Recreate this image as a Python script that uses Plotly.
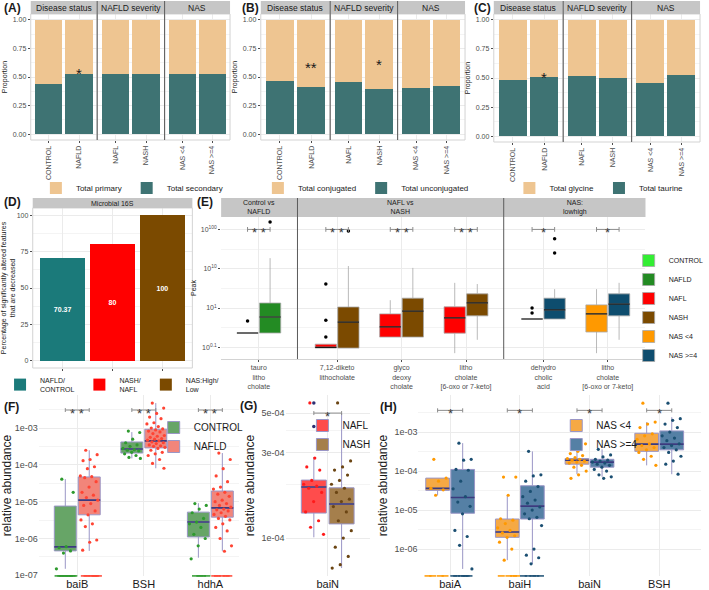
import math
import plotly.graph_objects as go

# ======================= DATA =======================
# Panels A-C (proportion of the dark/lower fraction per group)
abc_facets = ["Disease status", "NAFLD severity", "NAS"]
abc_categories = [["CONTROL", "NAFLD"], ["NAFL", "NASH"], ["NAS <4", "NAS >=4"]]
a_secondary = [0.435, 0.525, 0.53, 0.525, 0.525, 0.525]
b_unconjugated = [0.465, 0.415, 0.46, 0.395, 0.405, 0.42]
c_taurine = [0.48, 0.505, 0.515, 0.50, 0.46, 0.53]
a_sig = ["", "*", "", "", "", ""]
b_sig = ["", "**", "", "*", "", ""]
c_sig = ["", "*", "", "", "", ""]
a_sig_y = [0, 0.55, 0, 0, 0, 0]
b_sig_y = [0, 0.60, 0, 0.63, 0, 0]
c_sig_y = [0, 0.52, 0, 0, 0, 0]

# Panel D
d_comparisons = ["NAFLD/<br>CONTROL", "NASH/<br>NAFL", "NAS:High/<br>Low"]
d_percent = [70.37, 80, 100]

# Panel E (values are log10(Peak); axis shows them on a log scale)
e_facets = ["Control vs<br>NAFLD", "NAFL vs<br>NASH", "NAS:<br>lowhigh"]
e_features = [["tauro<br>litho<br>cholate"],
              ["7,12-diketo<br>lithocholate", "glyco<br>deoxy<br>cholate", "litho<br>cholate<br>[6-oxo or 7-keto]"],
              ["dehydro<br>cholic<br>acid", "litho<br>cholate<br>[6-oxo or 7-keto]"]]
e_groups = [["CONTROL", "NAFLD"], ["NAFL", "NASH"], ["NAS <4", "NAS >=4"]]
e_lo = [[[0.231, 0.231]], [[0.0955, 0.0955], [0.182, 0.182], [0.0708, 0.155]], [[0.525, 0.525], [0.0708, 0.155]]]
e_q1 = [[[0.231, 0.231]], [[0.0955, 0.0955], [0.182, 0.182], [0.229, 0.631]], [[0.525, 0.525], [0.245, 0.631]]]
e_med = [[[0.231, 0.590]], [[0.100, 0.436], [0.331, 0.832], [0.562, 1.35]], [[0.525, 0.891], [0.708, 1.26]]]
e_q3 = [[[0.231, 1.34]], [[0.120, 1.06], [0.708, 1.78], [1.07, 2.29]], [[0.525, 1.78], [1.20, 2.29]]]
e_hi = [[[0.231, 18.6]], [[0.120, 11.7], [1.58, 10.5], [4.37, 4.07]], [[0.525, 3.02], [3.02, 4.37]]]
e_outliers = [[[[0.468], [155]]],
              [[[4.07, 0.49, 0.182], [91]], [[], []], [[], []]],
              [[[1.0, 0.741], [25.1, 57.5]], [[], []]]]
e_sig = [["**"], ["**", "**", "**"], ["*", "*"]]
e_sig_level = 100

# Panel F (relative abundance; 0 = not detected)
f_genes = ["baiB", "BSH", "hdhA"]
f_groups = ["CONTROL", "NAFLD"]
f_lo = [[1.5e-7, 4.6e-7], [1.5e-4, 8.1e-5], [3.0e-7, 4.6e-7]]
f_q1 = [[4.6e-7, 4.4e-6], [2.1e-4, 2.9e-4], [1.1e-6, 3.8e-6]]
f_med = [[5.9e-7, 1.1e-5], [2.7e-4, 4.5e-4], [2.8e-6, 6.8e-6]]
f_q3 = [[7.6e-6, 4.7e-5], [4.2e-4, 9.3e-4], [5.2e-6, 1.95e-5]]
f_hi = [[4.1e-5, 2.5e-4], [7.8e-4, 4.8e-3], [9.1e-6, 2.1e-4]]
f_points = [
    [[4.1e-5, 1.8e-5, 6.0e-7, 5.6e-7, 4.6e-7, 4.0e-7, 1.5e-7, 0, 0, 0, 0, 0, 0, 0, 0],
     [2.5e-4, 1.9e-4, 1.4e-4, 1.3e-4, 8.9e-5, 7.9e-5, 5.0e-5, 4.8e-5, 4.5e-5, 3.5e-5, 2.5e-5, 1.8e-5,
      1.5e-5, 1.3e-5, 1.1e-5, 8.9e-6, 7.9e-6, 5.6e-6, 4.4e-6, 3.2e-6, 2.5e-6, 2.1e-6, 9.1e-7, 7.9e-7,
      4.8e-7, 0, 0, 0, 0, 0, 0]],
    [[8.3e-4, 7.6e-4, 5.0e-4, 4.0e-4, 3.5e-4, 3.2e-4, 2.8e-4, 2.6e-4, 2.5e-4, 2.4e-4, 2.2e-4, 2.0e-4,
      1.8e-4, 1.6e-4, 1.5e-4],
     [4.8e-3, 3.5e-3, 2.5e-3, 2.0e-3, 1.8e-3, 1.4e-3, 1.3e-3, 1.1e-3, 1.0e-3, 9.5e-4, 8.9e-4, 8.3e-4,
      7.9e-4, 7.1e-4, 6.3e-4, 6.0e-4, 5.6e-4, 5.2e-4, 5.0e-4, 4.7e-4, 4.5e-4, 4.2e-4, 4.0e-4, 3.8e-4,
      3.5e-4, 3.3e-4, 3.2e-4, 3.0e-4, 2.8e-4, 2.5e-4, 2.2e-4, 2.0e-4, 1.8e-4, 1.4e-4, 1.1e-4, 8.1e-5]],
    [[8.9e-6, 7.9e-6, 6.3e-6, 5.0e-6, 3.5e-6, 2.8e-6, 2.5e-6, 2.0e-6, 1.3e-6, 1.0e-6, 6.3e-7, 2.8e-7,
      0, 0, 0, 0],
     [2.1e-4, 1.4e-4, 7.9e-5, 5.0e-5, 3.5e-5, 2.5e-5, 2.2e-5, 1.8e-5, 1.6e-5, 1.4e-5, 1.1e-5, 1.0e-5,
      8.9e-6, 7.9e-6, 7.1e-6, 6.3e-6, 6.0e-6, 5.6e-6, 5.0e-6, 4.5e-6, 4.0e-6, 3.5e-6, 3.2e-6, 2.5e-6,
      2.0e-6, 1.6e-6, 1.0e-6, 6.3e-7, 4.5e-7, 0, 0, 0, 0, 0]]]
f_sig = ["**", "**", "**"]
f_sig_level = 3.1e-3

# Panel G
g_genes = ["baiN"]
g_groups = ["NAFL", "NASH"]
g_lo = [[1.01e-4, 6.8e-5]]
g_q1 = [[1.38e-4, 1.20e-4]]
g_med = [[1.93e-4, 1.55e-4]]
g_q3 = [[2.11e-4, 1.91e-4]]
g_hi = [[2.84e-4, 5.0e-4]]
g_outliers = [[[5.7e-4, 4.2e-4], []]]
g_points = [[[5.7e-4, 4.2e-4, 2.8e-4, 2.5e-4, 2.4e-4, 2.1e-4, 2.0e-4, 1.95e-4, 1.9e-4, 1.8e-4, 1.6e-4,
              1.4e-4, 1.25e-4, 1.15e-4, 1.05e-4],
             [5.7e-4, 2.7e-4, 2.5e-4, 2.4e-4, 2.25e-4, 2.1e-4, 2.0e-4, 1.9e-4, 1.8e-4, 1.65e-4, 1.6e-4,
              1.5e-4, 1.4e-4, 1.25e-4, 1.1e-4, 1.0e-4, 8.9e-5, 7.9e-5, 7.1e-5, 6.8e-5]]]
g_sig = ["*"]
g_sig_level = 5.0e-4

# Panel H
h_genes = ["baiA", "baiH", "baiN", "BSH"]
h_groups = ["NAS <4", "NAS >=4"]
h_lo = [[2.4e-5, 3.1e-7], [5.2e-7, 4.2e-7], [8.3e-5, 7.1e-5], [1.4e-4, 8.3e-5]]
h_q1 = [[3.2e-5, 8.3e-6], [2.0e-6, 5.9e-6], [1.5e-4, 1.26e-4], [3.2e-4, 3.5e-4]]
h_med = [[3.6e-5, 2.1e-5], [2.75e-6, 1.26e-5], [1.9e-4, 1.7e-4], [4.9e-4, 4.9e-4]]
h_q3 = [[6.6e-5, 1.1e-4], [5.9e-6, 4.2e-5], [2.1e-4, 2.0e-4], [9.3e-4, 1.07e-3]]
h_hi = [[6.6e-5, 5.2e-4], [2.4e-5, 3.2e-4], [3.5e-4, 3.6e-4], [1.8e-3, 2.4e-3]]
h_points = [
    [[2.0e-4, 6.6e-5, 5.5e-5, 3.6e-5, 3.3e-5, 2.4e-5, 0, 0, 0, 0],
     [5.2e-4, 2.0e-4, 1.9e-4, 1.1e-4, 1.05e-4, 5.5e-5, 3.5e-5, 2.2e-5, 1.6e-5, 1.25e-5, 8.0e-6, 3.0e-6,
      2.1e-6, 1.25e-6, 3.1e-7, 0, 0, 0, 0, 0, 0]],
    [[7.0e-5, 7.0e-5, 2.4e-5, 6.0e-6, 5.5e-6, 4.5e-6, 3.5e-6, 3.0e-6, 2.6e-6, 2.2e-6, 2.0e-6, 1.5e-6,
      1.0e-6, 5.2e-7, 0, 0, 0, 0],
     [3.2e-4, 8.0e-5, 7.5e-5, 5.5e-5, 4.0e-5, 3.0e-5, 2.2e-5, 1.8e-5, 1.5e-5, 1.2e-5, 1.0e-5, 8.0e-6,
      6.5e-6, 6.0e-6, 4.0e-6, 1.0e-6, 7.0e-7, 6.0e-7, 4.2e-7, 0, 0, 0, 0, 0]],
    [[5.6e-4, 5.0e-4, 3.2e-4, 2.8e-4, 2.5e-4, 2.2e-4, 2.1e-4, 2.0e-4, 1.9e-4, 1.8e-4, 1.7e-4, 1.6e-4,
      1.4e-4, 1.26e-4, 1.0e-4, 8.0e-5, 6.5e-5],
     [3.6e-4, 2.6e-4, 2.3e-4, 2.0e-4, 1.9e-4, 1.8e-4, 1.7e-4, 1.6e-4, 1.5e-4, 1.4e-4, 1.26e-4, 1.1e-4,
      1.0e-4, 8.0e-5, 7.1e-5, 6.5e-5]],
    [[5.5e-3, 1.8e-3, 1.6e-3, 1.3e-3, 9.0e-4, 8.0e-4, 6.5e-4, 5.0e-4, 4.5e-4, 4.0e-4, 3.5e-4, 3.0e-4,
      2.4e-4, 2.0e-4, 1.4e-4],
     [5.5e-3, 2.2e-3, 2.0e-3, 1.6e-3, 1.3e-3, 1.0e-3, 8.0e-4, 7.0e-4, 6.0e-4, 5.0e-4, 4.5e-4, 4.0e-4,
      3.5e-4, 3.0e-4, 2.4e-4, 1.8e-4, 1.5e-4, 8.3e-5]]]
h_sig = ["*", "*", "*", "*"]
h_sig_level = 3.6e-3

log_ticks = [1e-3, 1e-4, 1e-5, 1e-6, 1e-7]
log_ticktext = ["1e-03", "1e-04", "1e-05", "1e-06", "1e-07"]

# ======================= STYLE / HELPERS =======================
W, H = 709, 590
FONT = "Liberation Sans, Arial, Helvetica, sans-serif"
DARK = "#1A1A1A"
TICKC = "#4D4D4D"
GRID = "#EBEBEB"
MINOR = "#F4F4F4"
STRIP = "#C6C6C6"
SEP = "#5A5A5A"
BORDER = "#D3D3D3"
TAN = "#EEC591"
TEAL = "#3E7373"

fig = go.Figure()
layout = {}
shapes, annotations = [], []
cnt = {"x": 0, "y": 0}


def fx(p):
    return p / W


def fy(p):
    return 1 - p / H


def axis(kind, **kw):
    cnt[kind] += 1
    n = cnt[kind]
    ref = kind if n == 1 else f"{kind}{n}"
    layout[kind + "axis" + ("" if n == 1 else str(n))] = kw
    return ref


def akey(ref):
    return ref[0] + "axis" + ref[1:]


def rect(x0, y0, x1, y1, fill=None, line=None, lw=1):
    shapes.append(dict(type="rect", xref="paper", yref="paper", x0=fx(x0), x1=fx(x1), y0=fy(y1), y1=fy(y0),
                       fillcolor=fill or "rgba(0,0,0,0)",
                       line=dict(color=line or "rgba(0,0,0,0)", width=lw if line else 0), layer="above"))


def vline(x, y0, y1, color=SEP, lw=1):
    shapes.append(dict(type="line", xref="paper", yref="paper", x0=fx(x), x1=fx(x), y0=fy(y0), y1=fy(y1),
                       line=dict(color=color, width=lw), layer="above"))


def text(x, y, s, size, color=DARK, bold=False, xanchor="center", yanchor="middle"):
    annotations.append(dict(xref="paper", yref="paper", x=fx(x), y=fy(y), text=f"<b>{s}</b>" if bold else s,
                            showarrow=False, font=dict(size=size, color=color, family=FONT),
                            xanchor=xanchor, yanchor=yanchor))


def legend_cfg(x, y, orient, size, xanchor="center", yanchor="middle"):
    return dict(orientation=orient, x=fx(x), y=fy(y), xanchor=xanchor, yanchor=yanchor,
                font=dict(size=size, color=DARK, family=FONT), bgcolor="rgba(0,0,0,0)",
                itemwidth=30, tracegroupgap=0, traceorder="normal", itemclick=False, itemdoubleclick=False)


def jitter_x(center, n, half):
    return [center + half * (2 * ((k * 0.6180339887 + 0.31) % 1.0) - 1) for k in range(n)]


def add_box(xref, yref, pos, stats, width, fill, line, lw, med_color, med_w, name, legend, showlegend):
    lo, q1, med, q3, hi = stats
    fig.add_trace(go.Box(x=[pos], lowerfence=[lo], q1=[q1], median=[med], q3=[q3], upperfence=[hi],
                         width=width, fillcolor=fill, line=dict(color=line, width=lw), whiskerwidth=0,
                         boxpoints=False, name=name, legendgroup=name, showlegend=showlegend, legend=legend,
                         xaxis=xref, yaxis=yref, hoverinfo="skip"))
    fig.add_trace(go.Scatter(x=[pos - width / 2, pos + width / 2], y=[med, med], mode="lines",
                             line=dict(color=med_color, width=med_w), showlegend=False, hoverinfo="skip",
                             xaxis=xref, yaxis=yref))


def bracket(xref, yref, xa, xb, yv, fac, label, size, dy=0):
    fig.add_trace(go.Scatter(x=[xa, xa, None, xa, xb, None, xb, xb],
                             y=[yv / fac, yv * fac, None, yv, yv, None, yv / fac, yv * fac],
                             mode="lines", line=dict(color="#8C8C8C", width=1), showlegend=False,
                             hoverinfo="skip", xaxis=xref, yaxis=yref, cliponaxis=False))
    annotations.append(dict(xref=xref, yref=yref, x=(xa + xb) / 2, y=math.log10(yv), text=" ".join(label),
                            showarrow=False, font=dict(size=size, color="#3A3A3A", family=FONT),
                            xanchor="center", yanchor="middle", yshift=dy))


# ======================= PANELS A-C =======================
def bar_panel(label, label_x, facets_px, y_top, y_bot, lower, lower_name, upper_name, sig, sig_y, legend_id,
              legend_cx):
    yref = axis("y", domain=[fy(y_bot), fy(y_top)], range=[-0.05, 1.05],
                tickvals=[0, 0.25, 0.5, 0.75, 1], ticktext=["0.00", "0.25", "0.50", "0.75", "1.00"],
                tickfont=dict(size=7, color=TICKC), ticks="outside", ticklen=2, tickcolor=TICKC,
                showgrid=True, gridcolor=GRID, zeroline=False, showline=False,
                minor=dict(showgrid=True, gridcolor=MINOR, tickvals=[0.125, 0.375, 0.625, 0.875]),
                title=dict(text="Proportion", font=dict(size=7, color=DARK), standoff=4))
    xrefs = []
    for fi, (l, r) in enumerate(facets_px):
        cats = abc_categories[fi]
        xref = axis("x", domain=[fx(l), fx(r)], type="category", categoryorder="array", categoryarray=cats,
                    range=[-0.6, 1.6], tickangle=-90, tickfont=dict(size=7, color=TICKC), ticks="outside",
                    ticklen=2, tickcolor=TICKC, showgrid=True, gridcolor=GRID, zeroline=False, anchor=yref)
        xrefs.append(xref)
        lo = lower[2 * fi:2 * fi + 2]
        fig.add_trace(go.Bar(x=cats, y=lo, marker=dict(color=TEAL, line=dict(width=0)), name=lower_name,
                             legend=legend_id, legendrank=2, showlegend=(fi == 0), xaxis=xref, yaxis=yref,
                             hoverinfo="skip"))
        fig.add_trace(go.Bar(x=cats, y=[1 - v for v in lo], marker=dict(color=TAN, line=dict(width=0)),
                             name=upper_name, legend=legend_id, legendrank=1, showlegend=(fi == 0),
                             xaxis=xref, yaxis=yref, hoverinfo="skip"))
        for k in range(2):
            s = sig[2 * fi + k]
            if s:
                annotations.append(dict(xref=xref, yref=yref, x=cats[k], y=sig_y[2 * fi + k], text=s,
                                        showarrow=False, font=dict(size=15, color=DARK, family=FONT),
                                        xanchor="center", yanchor="middle", yshift=-2))
        rect(l, y_top, r, y_bot, line=BORDER, lw=1)
        rect(l, 1, r, y_top, fill=STRIP)
        text((l + r) / 2, (1 + y_top) / 2 + 0.5, abc_facets[fi], 8.5)
        if fi > 0:
            vline(l, 1, y_bot)
    layout[akey(yref)]["anchor"] = xrefs[0]
    text(label_x, 8, label, 12, bold=True, xanchor="left")
    layout[legend_id] = legend_cfg(legend_cx, 188, "h", 8)


bar_panel("(A)", 1, [(30, 97), (97, 165), (165, 231)], 14, 140, a_secondary, "Total secondary", "Total primary",
          a_sig, a_sig_y, "legend", 132)
bar_panel("(B)", 241, [(262, 332), (332, 400), (400, 468)], 14, 140, b_unconjugated, "Total unconjugated",
          "Total conjugated", b_sig, b_sig_y, "legend2", 368)
bar_panel("(C)", 475, [(497, 567), (567, 636), (636, 705)], 14, 142, c_taurine, "Total taurine",
          "Total glycine", c_sig, c_sig_y, "legend3", 603)

# ======================= PANEL D =======================
d_colors = ["#1B7A7A", "#FF0000", "#7B4A00"]
d_y = axis("y", domain=[fy(368), fy(208)], range=[-5, 105], tickvals=[0, 25, 50, 75, 100],
           tickfont=dict(size=7, color=TICKC), ticks="outside", ticklen=2, tickcolor=TICKC,
           showgrid=True, gridcolor=GRID, zeroline=False,
           minor=dict(showgrid=True, gridcolor=MINOR, tickvals=[12.5, 37.5, 62.5, 87.5]),
           title=dict(text="Percentage of significantly altered features<br>that are decreased",
                      font=dict(size=7, color=DARK), standoff=4))
d_x = axis("x", domain=[fx(32), fx(193)], type="category", categoryorder="array", categoryarray=d_comparisons,
           range=[-0.6, 2.6], showticklabels=False, ticks="outside", ticklen=2, tickcolor=TICKC,
           showgrid=True, gridcolor=GRID, zeroline=False, anchor=d_y)
layout[akey(d_y)]["anchor"] = d_x
for i, comp in enumerate(d_comparisons):
    fig.add_trace(go.Bar(x=[comp], y=[d_percent[i]], marker=dict(color=d_colors[i], line=dict(width=0)),
                         name=comp, legend="legend4", text=[f"<b>{d_percent[i]:g}</b>"], textposition="inside",
                         insidetextanchor="middle", textfont=dict(size=7, color="white", family=FONT),
                         xaxis=d_x, yaxis=d_y, hoverinfo="skip"))
rect(32, 208, 193, 368, line=BORDER)
rect(32, 198, 193, 208, fill=STRIP)
text(112.5, 203.5, "Microbial 16S", 7)
text(1, 202, "(D)", 12, bold=True, xanchor="left")
layout["legend4"] = legend_cfg(112, 385, "h", 7)

# ======================= PANEL E =======================
E_CLR = {"CONTROL": "#33EE33", "NAFLD": "#238B23", "NAFL": "#FF0000", "NASH": "#7B4A00",
         "NAS <4": "#FF9900", "NAS >=4": "#0E4D6E"}
e_px = [(222, 299), (299, 507), (507, 650)]
e_rng = [[-0.585, 0.6], [-0.615, 2.585], [-0.615, 1.585]]
E_OFF, E_W = 0.175, 0.33
e_y = axis("y", domain=[fy(359), fy(217)], type="log", range=[-1.298, 2.316], tickvals=[0.1, 1, 10, 100],
           ticktext=["10<sup>0.1</sup>", "10<sup>1</sup>", "10<sup>10</sup>", "10<sup>100</sup>"],
           tickfont=dict(size=7, color=TICKC), ticks="outside", ticklen=2, tickcolor=TICKC,
           showgrid=True, gridcolor=GRID, zeroline=False,
           minor=dict(showgrid=True, gridcolor=MINOR, tickvals=[0.316, 3.16, 31.6]),
           title=dict(text="Peak", font=dict(size=7, color=DARK), standoff=3))
e_xrefs = []
for fi, (l, r) in enumerate(e_px):
    feats = e_features[fi]
    xref = axis("x", domain=[fx(l), fx(r)], range=e_rng[fi], tickvals=list(range(len(feats))), ticktext=feats,
                tickfont=dict(size=7, color=TICKC), ticks="outside", ticklen=2, tickcolor=TICKC,
                showgrid=True, gridcolor=GRID, zeroline=False, showline=True, linecolor=BORDER, anchor=e_y)
    e_xrefs.append(xref)
    for j in range(len(feats)):
        for g in range(2):
            grp = e_groups[fi][g]
            pos = j + (2 * g - 1) * E_OFF
            stats = (e_lo[fi][j][g], e_q1[fi][j][g], e_med[fi][j][g], e_q3[fi][j][g], e_hi[fi][j][g])
            add_box(xref, e_y, pos, stats, E_W, E_CLR[grp], "#A8A8A8", 0.8, DARK, 1.2, grp, "legend5", j == 0)
            outs = e_outliers[fi][j][g]
            if outs:
                fig.add_trace(go.Scatter(x=[pos] * len(outs), y=outs, mode="markers",
                                         marker=dict(color="black", size=3.5), showlegend=False,
                                         hoverinfo="skip", xaxis=xref, yaxis=e_y, cliponaxis=False))
        bracket(xref, e_y, j - E_OFF, j + E_OFF, e_sig_level, 1.15, e_sig[fi][j], 13, dy=-3)
    rect(l, 198, r, 217, fill=STRIP)
    text((l + r) / 2, 207.5, e_facets[fi], 7)
    if fi > 0:
        vline(l, 198, 359)
layout[akey(e_y)]["anchor"] = e_xrefs[0]
text(196, 202, "(E)", 12, bold=True, xanchor="left")
layout["legend5"] = legend_cfg(633, 246, "v", 7, xanchor="left", yanchor="top")


# ======================= PANELS F, G, H =======================
def abundance_panel(label, label_xy, x_px, rng_x, rng_y, genes, groups, lo, q1, med, q3, hi, points, sig,
                    sig_level, sig_fac, off, width, box_fill, pt_color, zero_floor, legend_id, legend_xy,
                    ytick_vals, ytick_text, minor_vals, outliers=None):
    yref = axis("y", domain=[fy(576), fy(395)], type="log", range=rng_y, tickvals=ytick_vals,
                ticktext=ytick_text, tickfont=dict(size=9, color=TICKC), ticks="", showgrid=True,
                gridcolor=GRID, zeroline=False,
                minor=dict(showgrid=True, gridcolor=MINOR, tickvals=minor_vals, ticks=""),
                title=dict(text="relative abundance", font=dict(size=12, color=DARK), standoff=4))
    xref = axis("x", domain=[fx(x_px[0]), fx(x_px[1])], range=rng_x, tickvals=list(range(len(genes))),
                ticktext=genes, tickfont=dict(size=11, color=DARK), ticks="", showgrid=True, gridcolor=GRID,
                zeroline=False, anchor=yref)
    layout[akey(yref)]["anchor"] = xref
    for gi in range(len(genes)):
        for g in range(2):
            pos = gi + (2 * g - 1) * off
            stats = (lo[gi][g], q1[gi][g], med[gi][g], q3[gi][g], hi[gi][g])
            add_box(xref, yref, pos, stats, width, box_fill[g], "#9A96C6", 1, "#3B3A7E", 1.6, groups[g],
                    legend_id, gi == 0)
            if outliers and outliers[gi][g]:
                fig.add_trace(go.Scatter(x=[pos] * len(outliers[gi][g]), y=outliers[gi][g], mode="markers",
                                         marker=dict(color="#2E2E72", size=3.5), showlegend=False,
                                         hoverinfo="skip", xaxis=xref, yaxis=yref, cliponaxis=False))
            pts = points[gi][g]
            xs = jitter_x(pos, len(pts), width * 0.42)
            nzx = [x for x, v in zip(xs, pts) if v > 0]
            nzy = [v for v in pts if v > 0]
            zx = [x for x, v in zip(xs, pts) if v == 0]
            fig.add_trace(go.Scatter(x=nzx, y=nzy, mode="markers", marker=dict(color=pt_color[g], size=3.2),
                                     showlegend=False, hoverinfo="skip", xaxis=xref, yaxis=yref,
                                     cliponaxis=False))
            if zx:
                fig.add_trace(go.Scatter(x=zx, y=[zero_floor] * len(zx), mode="markers",
                                         marker=dict(symbol="line-ew", size=5, color=pt_color[g],
                                                     line=dict(color=pt_color[g], width=1.5)),
                                         showlegend=False, hoverinfo="skip", xaxis=xref, yaxis=yref,
                                         cliponaxis=False))
        bracket(xref, yref, gi - off, gi + off, sig_level, sig_fac, sig[gi], 13, dy=-3)
    text(label_xy[0], label_xy[1], label, 12, bold=True, xanchor="left")
    layout[legend_id] = legend_cfg(legend_xy[0], legend_xy[1], "v", 10, xanchor="left", yanchor="top")


abundance_panel("(F)", (1, 407), (38, 240), [-0.58, 2.43], [-7.02, -2.10], f_genes, f_groups,
                f_lo, f_q1, f_med, f_q3, f_hi, f_points, f_sig, f_sig_level, 1.13, 0.18, 0.33,
                ["#67A567", "#F2857A"], ["#2E9A2E", "#FF4433"], 9.6e-8, "legend6", (154, 413),
                log_ticks, log_ticktext, [3.16e-3, 3.16e-4, 3.16e-5, 3.16e-6, 3.16e-7])
abundance_panel("(G)", (239, 406), (287, 372), [-0.607, 0.607], [-4.212, -3.20], g_genes, g_groups,
                g_lo, g_q1, g_med, g_q3, g_hi, g_points, g_sig, g_sig_level, 1.026, 0.2, 0.36,
                ["#FF4C4C", "#A57F4C"], ["#FF1A1A", "#6B4513"], 1.0e-4, "legend7", (304, 411),
                [5e-4, 3e-4, 1e-4], ["5e-04", "3e-04", "1e-04"], [4e-4, 2e-4], outliers=g_outliers)
abundance_panel("(H)", (380, 407), (421, 706), [-0.455, 3.6], [-6.69, -2.05], h_genes, h_groups,
                h_lo, h_q1, h_med, h_q3, h_hi, h_points, h_sig, h_sig_level, 1.13, 0.18, 0.34,
                ["#F6A944", "#5580A5"], ["#FF9900", "#1B4F72"], 2.05e-7, "legend8", (560, 411),
                log_ticks[:4], log_ticktext[:4], [3.16e-3, 3.16e-4, 3.16e-5, 3.16e-6])

# ======================= LAYOUT =======================
fig.update_layout(**layout)
fig.update_layout(width=W, height=H, margin=dict(l=0, r=0, t=0, b=0), template="none",
                  paper_bgcolor="white", plot_bgcolor="white", font=dict(family=FONT, color=DARK),
                  barmode="stack", bargap=0.1, showlegend=True, shapes=shapes, annotations=annotations,
                  hovermode=False)
fig.write_html("out.html", post_script="document.body.style.margin='0px';", config={"displayModeBar": False})
